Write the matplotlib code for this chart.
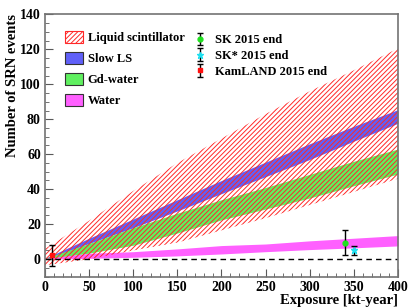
import numpy as np
import matplotlib.pyplot as plt
from matplotlib.patches import Patch

plt.rcParams['font.family'] = ['Liberation Serif', 'DejaVu Serif']
plt.rcParams['font.weight'] = 'bold'
plt.rcParams['axes.labelweight'] = 'bold'
plt.rcParams['hatch.color'] = '#ff2828'
plt.rcParams['hatch.linewidth'] = 0.7

# exposure grid [kt-year] and band edges [events]
exposure = [0, 50, 100, 150, 200, 250, 300, 350, 400]
ls_hi = [6, 22, 39, 55, 69, 83, 96, 108, 120.5]
ls_lo = [-3.5, 0, 5, 9.5, 16.5, 23.5, 31, 38.5, 46]
slow_hi = [0.5, 12, 23, 34, 45, 55.5, 66, 76, 85.5]
slow_lo = [0, 9, 18, 27.6, 37.5, 47.2, 57, 67.5, 77.7]
gd_hi = [0.5, 9, 18, 26.3, 34, 41, 48.5, 56, 63]
gd_lo = [0, 3.5, 8, 15, 22.5, 28.7, 35, 42, 48.7]
water_hi = [0.5, 3.4, 4.3, 5.9, 7.8, 8.7, 10.5, 12, 13.5]
water_lo = [0, 0.5, 1.1, 1.9, 3.0, 4.3, 5.5, 6.5, 7.6]

# measured points: exposure, events, error
sk = (340, 9.5, 7.0)
sk_star = (350, 5.0, 2.7)
kamland = (7.5, 2.2, 6.0)

xticks = [0, 50, 100, 150, 200, 250, 300, 350, 400]
yticks = [0, 20, 40, 60, 80, 100, 120, 140]

fig = plt.figure(figsize=(4.15, 3.08), dpi=100)
ax = fig.add_axes([0.1084, 0.1016, 0.8506, 0.852])

blue = '#6060f8'
green = '#60f060'
pink = '#ff60ff'

ax.fill_between(exposure, slow_lo, slow_hi, color=blue, lw=0)
ax.fill_between(exposure, gd_lo, gd_hi, color=green, lw=0)
ax.fill_between(exposure, water_lo, water_hi, color=pink, lw=0)
ax.fill_between(exposure, ls_lo, ls_hi, facecolor='none', edgecolor='#ff2828',
                hatch='///////', lw=0)
ax.axhline(0, color='black', ls='--', lw=1, dashes=(4, 3))

e_sk = ax.errorbar(sk[0], sk[1], yerr=sk[2], fmt='o', color='#20e020', ms=3.5,
                   ecolor='black', elinewidth=1, capsize=2)
e_sks = ax.errorbar(sk_star[0], sk_star[1], yerr=sk_star[2], fmt='*', color='#20e0f0',
                    ms=5, ecolor='black', elinewidth=1, capsize=2)
e_kl = ax.errorbar(kamland[0], kamland[1], yerr=kamland[2], fmt='s', color='#ff1010',
                   ms=3.5, ecolor='black', elinewidth=1, capsize=2)

ax.set_xlim(0, 400)
ax.set_ylim(-10, 140)
ax.set_xticks(xticks)
ax.set_xticklabels([str(v) for v in xticks], fontweight='bold', fontsize=10)
ax.set_xticks(np.arange(0, 401, 10), minor=True)
ax.set_yticks(yticks)
ax.set_yticklabels([str(v) for v in yticks], fontweight='bold', fontsize=10)
ax.set_yticks(np.arange(-10, 141, 5), minor=True)
ax.tick_params(which='both', direction='in', color='0.35', pad=3)
ax.tick_params(which='major', length=6)
ax.tick_params(which='minor', length=3)
for s in ax.spines.values():
    s.set_color('0.45')
    s.set_linewidth(1.2)

ax.set_xlabel('Exposure [kt-year]', loc='right', fontsize=10.5, fontweight='bold', labelpad=0)
ax.set_ylabel('Number of SRN events', loc='top', fontsize=10.5, fontweight='bold', labelpad=1)

handles1 = [Patch(facecolor='white', edgecolor='#ff2828', hatch='///////', lw=0.8),
            Patch(facecolor=blue, edgecolor='0.2', lw=0.8),
            Patch(facecolor=green, edgecolor='0.2', lw=0.8),
            Patch(facecolor=pink, edgecolor='0.2', lw=0.8)]
labels1 = ['Liquid scintillator', 'Slow LS', 'Gd-water', 'Water']
leg1 = fig.legend(handles1, labels1, loc='upper left', bbox_to_anchor=(0.145, 0.915),
                  frameon=False, fontsize=9, handlelength=1.4, handleheight=1.1,
                  labelspacing=0.62, handletextpad=0.4, borderaxespad=0)
leg2 = fig.legend([e_sk, e_sks, e_kl], ['SK 2015 end', 'SK* 2015 end', 'KamLAND 2015 end'],
                  loc='upper left', bbox_to_anchor=(0.453, 0.905), frameon=False,
                  fontsize=9, handlelength=1.2, labelspacing=0.3, handletextpad=0.6,
                  borderaxespad=0)

fig.savefig('out.png', dpi=100)
